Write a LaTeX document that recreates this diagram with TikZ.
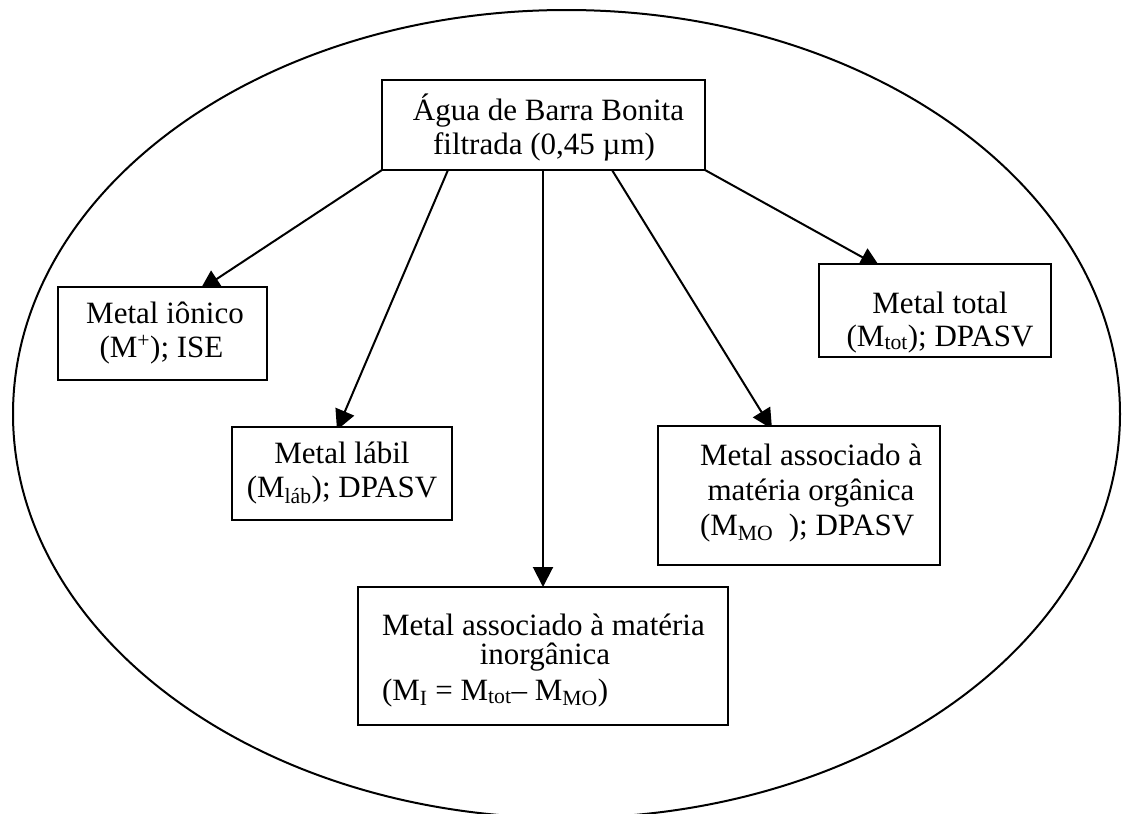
\documentclass[tikz,border=0pt]{standalone}
\usepackage{fontspec}
\setmainfont{Liberation Serif}
\usetikzlibrary{arrows.meta,backgrounds}
\tikzset{
  box/.style={draw=black, fill=white, line width=2pt, inner sep=0pt, outer sep=0pt},
  txt/.style={inner sep=0pt, outer sep=0pt, font=\fontsize{31}{35}\selectfont},
  conn/.style={line width=2pt, -{Triangle[length=20pt,width=20pt]}},
  frame/.style={line width=2pt}
}
\begin{document}
\begin{tikzpicture}[x=1pt,y=-1pt]
\useasboundingbox (0,0) rectangle (1133,814);
\draw[frame] (566.5,414) ellipse [x radius=553.5pt, y radius=404pt];

% boxes
\node[box, minimum width=323pt, minimum height=90pt]  (top)   at (543.5,125) {};
\node[box, minimum width=209pt, minimum height=93pt]  (ion)   at (162.5,333.5) {};
\node[box, minimum width=220pt, minimum height=93pt]  (lab)   at (342,473.5) {};
\node[box, minimum width=232pt, minimum height=93pt]  (tot)   at (935,310.5) {};
\node[box, minimum width=282pt, minimum height=139pt] (org)   at (799,495.5) {};
\node[box, minimum width=370pt, minimum height=138pt] (inorg) at (543,656) {};

% texts
\node[txt, anchor=base] (top1) at (548.5,120) {Água de Barra Bonita};
\node[txt, anchor=base] (top2) at (544,154) {filtrada (0,45 µm)};
\node[txt, anchor=base] (ion1) at (165,323) {Metal iônico};
\node[txt, anchor=base] (ion2) at (161.5,357) {(M\textsuperscript{+}); ISE};
\node[txt, anchor=base] (lab1) at (342,463) {Metal lábil};
\node[txt, anchor=base] (lab2) at (342,497) {(M\textsubscript{láb}); DPASV};
\node[txt, anchor=base] (tot1) at (940,313) {Metal total};
\node[txt, anchor=base] (tot2) at (940,346) {(M\textsubscript{tot}); DPASV};
\node[txt, anchor=base west] (org1) at (700,465) {Metal associado à};
\node[txt, anchor=base] (org2) at (811,500) {matéria orgânica};
\node[txt, anchor=base west] (org3) at (700,535) {(M\textsubscript{MO}\ \ ); DPASV};
\node[txt, anchor=base west] (inorg1) at (382,635) {Metal associado à matéria};
\node[txt, anchor=base] (inorg2) at (545,664) {inorgânica};
\node[txt, anchor=base west] (inorg3) at (382,700) {(M\textsubscript{I} = M\textsubscript{tot}– M\textsubscript{MO})};

% connectors (behind boxes)
\begin{pgfonlayer}{background}
\fill[white] (0,0) rectangle (1133,814);
\draw[conn] (top.south west) -- ([xshift=142pt,yshift=-3pt]ion.north west);
\draw[conn] ([xshift=66pt]top.south west) -- ([xshift=105pt,yshift=-3pt]lab.north west);
\draw[conn] (top.south -| inorg.north) -- (inorg.north);
\draw[conn] ([xshift=230pt]top.south west) -- ([xshift=114pt,yshift=-3pt]org.north west);
\draw[conn] (top.south east) -- ([xshift=61pt,yshift=-3pt]tot.north west);
\end{pgfonlayer}
\end{tikzpicture}
\end{document}
